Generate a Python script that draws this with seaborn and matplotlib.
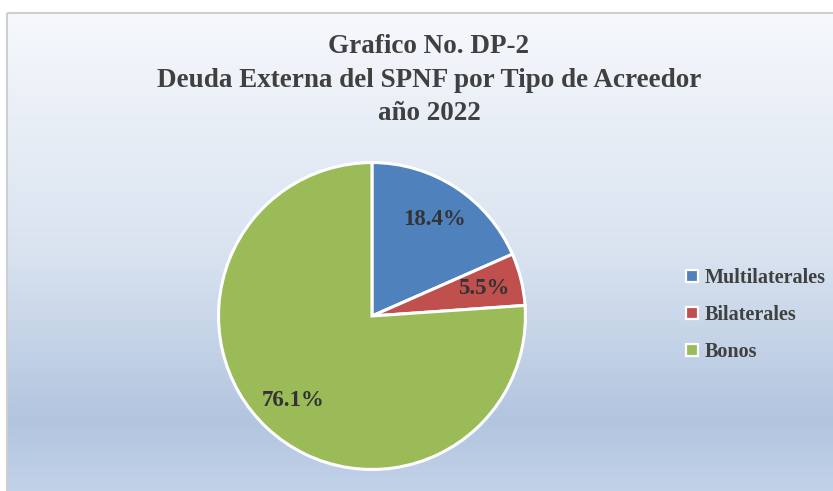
import matplotlib
matplotlib.use('Agg')
import matplotlib.pyplot as plt
from matplotlib.colors import LinearSegmentedColormap
from matplotlib.lines import Line2D
from matplotlib.patches import Rectangle
import seaborn as sns
import numpy as np

# data
Categorias = ['Multilaterales', 'Bilaterales', 'Bonos']
Porcentajes = [18.4, 5.5, 76.1]
Colores = ['#4f81bd', '#c0504d', '#9bbb59']
Titulo = 'Grafico No. DP-2\nDeuda Externa del SPNF por Tipo de Acreedor\naño 2022'

sns.set_style('white')
plt.rcParams['font.family'] = ['Liberation Serif', 'DejaVu Serif']
Paleta = sns.color_palette(Colores)

W, H = 833, 491
fig = plt.figure(figsize=(W / 100, H / 100), dpi=100)

#background with the blue gradient and the grey frame
bg = fig.add_axes([0, 0, 1, 1])
bg.set_xlim(0, W)
bg.set_ylim(H, 0)
bg.axis('off')
grad = LinearSegmentedColormap.from_list('fondo', [(0, '#f6f8fc'), (0.5, '#d9e3f0'), (0.85, '#b2c5df'), (1, '#c2d2e9')])
bg.imshow(np.linspace(0, 1, 256).reshape(-1, 1), cmap=grad, aspect='auto', extent=(8, W + 2, H + 2, 13), zorder=0)
bg.add_patch(Rectangle((7.5, 12.5), W, H, fill=False, edgecolor='#cfcfcf', linewidth=1.5, zorder=1))

fig.text(0.515, 0.837, Titulo, ha='center', va='center', fontsize=19.5, fontweight='bold',
         color='#404040', linespacing=1.46)

#pie
ax = fig.add_axes([0.2605, 0.0407, 0.3721, 0.6314])
wedges, texts, autotexts = ax.pie(Porcentajes, colors=Paleta, startangle=90, counterclock=False,
                                  autopct='%.1f%%', pctdistance=0.75,
                                  wedgeprops=dict(edgecolor='white', linewidth=2.2),
                                  textprops=dict(fontsize=16.5, fontweight='bold', color='#333333'))
ax.set_xlim(-1.01, 1.01)
ax.set_ylim(-1.01, 1.01)
ax.set_aspect('equal')
ax.axis('off')

Handles = [Line2D([], [], marker='s', linestyle='', markersize=9, markerfacecolor=c,
                  markeredgecolor='white', markeredgewidth=1.6) for c in Colores]
fig.legend(Handles, Categorias, loc='center left', bbox_to_anchor=(0.811, 0.359), frameon=False,
           prop=dict(size=14.5, weight='bold'), labelcolor='#404040', handlelength=0.6,
           handletextpad=0.35, labelspacing=0.85, borderpad=0)

plt.savefig('out.png', dpi=100)
